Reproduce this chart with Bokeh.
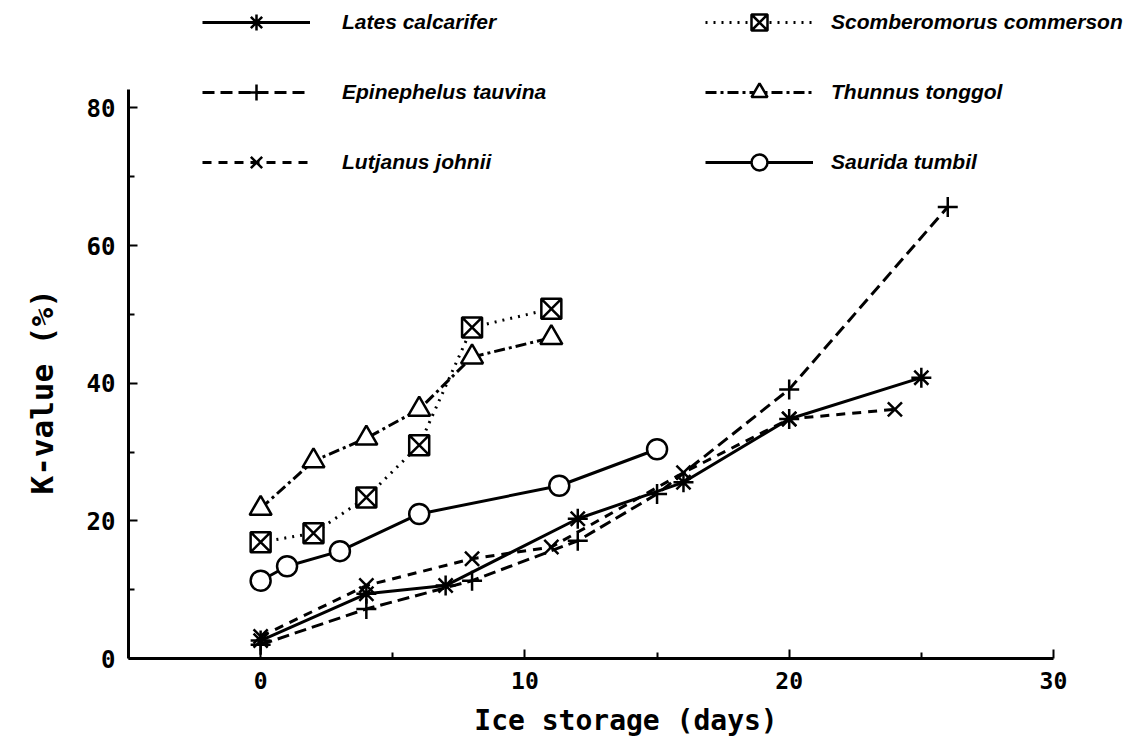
from bokeh.plotting import figure
from bokeh.models import Range1d, FixedTicker, Legend, LegendItem, Title
from bokeh.embed import file_html
from bokeh.resources import INLINE

# ---- data ----
lates_x = [0, 4, 7, 12, 16, 20, 25]
lates_y = [2.6, 9.4, 10.6, 20.3, 25.6, 34.8, 40.8]
epin_x = [0, 4, 8, 12, 15, 20, 26]
epin_y = [2.0, 7.2, 11.3, 17.1, 23.9, 39.1, 65.6]
lutj_x = [0, 4, 8, 11, 16, 20, 24]
lutj_y = [3.2, 10.6, 14.5, 16.2, 27.0, 34.8, 36.2]
scomb_x = [0, 2, 4, 6, 8, 11]
scomb_y = [16.9, 18.2, 23.4, 31.0, 48.1, 50.8]
thun_x = [0, 2, 4, 6, 8, 11]
thun_y = [21.8, 28.7, 32.0, 36.2, 43.8, 46.6]
saur_x = [0, 1, 3, 6, 11.3, 15]
saur_y = [11.3, 13.4, 15.6, 21.0, 25.1, 30.4]

names = ["Lates calcarifer", "Epinephelus tauvina", "Lutjanus johnii",
         "Scomberomorus commerson", "Thunnus tonggol", "Saurida tumbil"]

x_ticks = [0, 10, 20, 30]
x_minor = [5, 15, 25]
y_ticks = [0, 20, 40, 60, 80]
y_minor = [10, 30, 50, 70]
x_axis_span = (-5, 30)
y_axis_span = (0, 82.7)
x_title = "Ice storage (days)"
y_title = "K-value (%)"

W, H = 1123, 740
p = figure(width=W, height=H, output_backend="svg", toolbar_location=None,
           x_range=Range1d(-5, 32.65), y_range=Range1d(0, 95.6),
           min_border_left=128, min_border_right=0,
           min_border_top=0, min_border_bottom=82)
p.outline_line_color = None
p.xgrid.visible = False
p.ygrid.visible = False
p.background_fill_color = "white"
p.border_fill_color = "white"

mono = "DejaVu Sans Mono"
for ax in (p.xaxis[0], p.yaxis[0]):
    ax.axis_line_width = 3
    ax.axis_line_color = "black"
    ax.major_tick_in = 9
    ax.major_tick_out = 0
    ax.minor_tick_in = 6
    ax.minor_tick_out = 0
    ax.major_tick_line_width = 2
    ax.minor_tick_line_width = 2
    ax.major_label_text_font = mono
    ax.major_label_text_font_style = "bold"
    ax.major_label_text_color = "black"
    ax.axis_label_text_font = mono
    ax.axis_label_text_font_style = "bold"
    ax.axis_label_text_color = "black"

p.xaxis.major_label_text_font_size = "23px"
p.yaxis.major_label_text_font_size = "24px"
p.xaxis.axis_label_text_font_size = "28px"

p.xaxis.ticker = FixedTicker(ticks=x_ticks, minor_ticks=x_minor)
p.yaxis.ticker = FixedTicker(ticks=y_ticks, minor_ticks=y_minor)
p.xaxis.bounds = x_axis_span
p.yaxis.bounds = y_axis_span
p.xaxis.axis_label = x_title
p.xaxis.major_label_standoff = 13
p.xaxis.axis_label_standoff = 12
p.yaxis.major_label_standoff = 13

# y-axis title, placed along the axis extent (not the whole frame)
yt = Title(text=y_title, align="left", offset=164, vertical_align="top",
           standoff=44, text_font=mono, text_font_style="bold",
           text_font_size="31px", text_color="black")
p.add_layout(yt, "left")

lw = 3
series = [
    (lates_x, lates_y, "solid", "asterisk", 20),
    (epin_x, epin_y, "12 6", "cross", 20),
    (lutj_x, lutj_y, "9 7", "x", 20),
    (scomb_x, scomb_y, "2 6", "square_x", 20),
    (thun_x, thun_y, "11 4 3 4", "triangle", 22),
    (saur_x, saur_y, "solid", "circle", 20),
]

items = []
for (xs, ys, dash, mk, sz), name in zip(series, names):
    r1 = p.line(xs, ys, line_color="black", line_width=lw, line_dash=dash)
    r2 = p.scatter(xs, ys, marker=mk, size=sz, line_color="black",
                   line_width=2.5, fill_color="white")
    items.append(LegendItem(label=name, renderers=[r1, r2]))

def make_legend(its, loc, standoff):
    lg = Legend(items=its, location=loc, orientation="vertical",
                glyph_width=108, glyph_height=40, label_height=40,
                spacing=30, padding=0, margin=0, label_standoff=standoff,
                border_line_color=None, background_fill_alpha=0,
                label_text_font="Liberation Sans",
                label_text_font_style="bold italic",
                label_text_font_size="21px", label_text_color="black")
    return lg

p.add_layout(make_legend(items[:3], (74, 476), 32))
p.add_layout(make_legend(items[3:], (577, 476), 18))

open("out.html", "w").write(file_html(p, INLINE))
